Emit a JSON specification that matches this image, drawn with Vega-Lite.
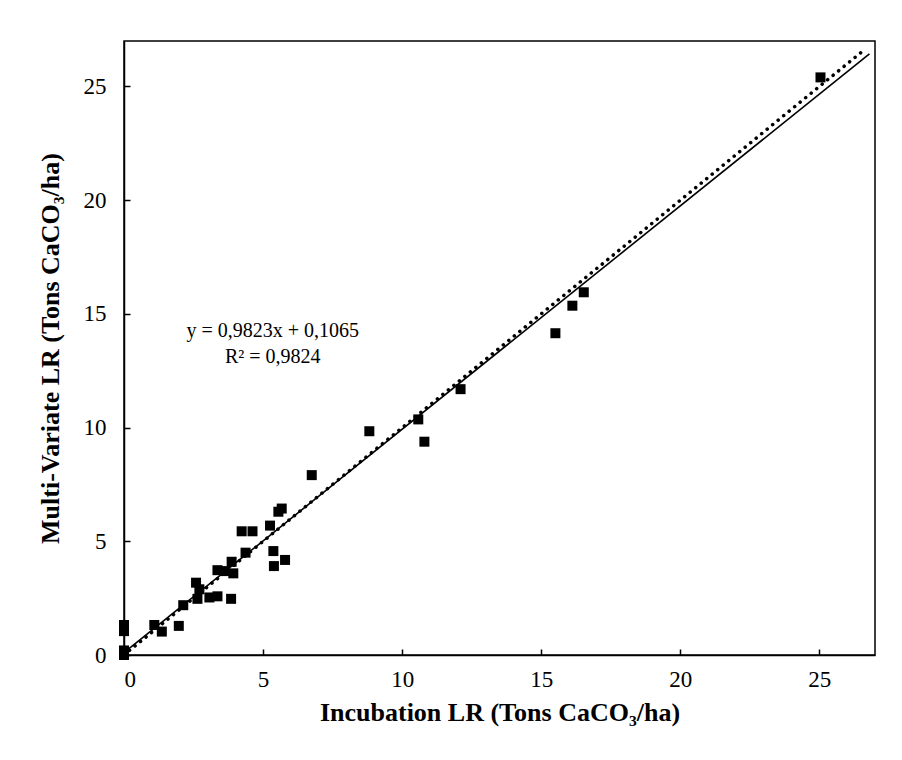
{
  "$schema": "https://vega.github.io/schema/vega-lite/v6.json",
  "width": 751,
  "height": 614,
  "autosize": {"type": "none"},
  "padding": {"left": 124, "top": 41, "right": 27, "bottom": 105},
  "background": "white",
  "config": {
    "view": {"stroke": "black", "strokeWidth": 1.5},
    "font": "Liberation Serif",
    "axis": {
      "grid": false,
      "domainColor": "black",
      "domainWidth": 1.5,
      "tickColor": "black",
      "tickWidth": 1.5,
      "tickSize": -6,
      "labelFont": "Liberation Serif",
      "labelFontSize": 23,
      "labelColor": "black",
      "titleFont": "Liberation Serif",
      "titleFontSize": 26,
      "titleFontWeight": "bold",
      "titleColor": "black"
    }
  },
  "datasets": {
    "pts": [
      {"x": 0, "y": 0}, {"x": 0, "y": 0.2}, {"x": 0, "y": 1.05}, {"x": 0, "y": 1.32},
      {"x": 1.09, "y": 1.32}, {"x": 1.36, "y": 1.03}, {"x": 1.97, "y": 1.28}, {"x": 2.13, "y": 2.19},
      {"x": 2.59, "y": 3.18}, {"x": 2.71, "y": 2.89}, {"x": 2.64, "y": 2.47}, {"x": 3.07, "y": 2.53},
      {"x": 3.36, "y": 2.58}, {"x": 3.36, "y": 3.73}, {"x": 3.63, "y": 3.69}, {"x": 3.87, "y": 4.1},
      {"x": 3.93, "y": 3.59}, {"x": 3.85, "y": 2.47}, {"x": 4.37, "y": 4.5}, {"x": 4.23, "y": 5.44},
      {"x": 4.62, "y": 5.44}, {"x": 5.25, "y": 5.69}, {"x": 5.55, "y": 6.3}, {"x": 5.67, "y": 6.44},
      {"x": 5.37, "y": 4.57}, {"x": 5.79, "y": 4.18}, {"x": 5.39, "y": 3.91}, {"x": 6.75, "y": 7.91},
      {"x": 8.82, "y": 9.84}, {"x": 10.58, "y": 10.36}, {"x": 10.8, "y": 9.38}, {"x": 12.1, "y": 11.69},
      {"x": 15.51, "y": 14.15}, {"x": 16.12, "y": 15.36}, {"x": 16.53, "y": 15.95}, {"x": 25.04, "y": 25.4}
    ],
    "fit": [{"x": 0, "y": 0.1065}, {"x": 26.8, "y": 26.43}],
    "one": [{"x": 0, "y": 0}, {"x": 26.6, "y": 26.6}],
    "label": [
      {"x": 5.35, "y": 14.25, "t": "y = 0,9823x + 0,1065"},
      {"x": 5.35, "y": 13.1, "t": "R² = 0,9824"}
    ]
  },
  "encoding": {
    "x": {
      "field": "x", "type": "quantitative",
      "scale": {"domain": [0, 27], "nice": false, "zero": false},
      "axis": {"values": [0, 5, 10, 15, 20, 25], "title": "Incubation LR (Tons CaCO₃/ha)", "labelPadding": 19, "titlePadding": 8}
    },
    "y": {
      "field": "y", "type": "quantitative",
      "scale": {"domain": [0, 27], "nice": false, "zero": false},
      "axis": {"values": [0, 5, 10, 15, 20, 25], "title": "Multi-Variate LR (Tons CaCO₃/ha)", "labelPadding": 24, "titlePadding": 20}
    }
  },
  "layer": [
    {
      "data": {"name": "one"},
      "mark": {"type": "line", "color": "black", "strokeWidth": 3.5, "strokeDash": [0.1, 7], "strokeCap": "round"}
    },
    {
      "data": {"name": "fit"},
      "mark": {"type": "line", "color": "black", "strokeWidth": 1.6}
    },
    {
      "data": {"name": "pts"},
      "mark": {"type": "point", "shape": "square", "filled": true, "color": "black", "size": 100, "opacity": 1}
    },
    {
      "data": {"name": "label"},
      "mark": {"type": "text", "align": "center", "baseline": "middle", "fontSize": 20, "font": "Liberation Serif", "color": "black"},
      "encoding": {"text": {"field": "t"}}
    }
  ]
}
